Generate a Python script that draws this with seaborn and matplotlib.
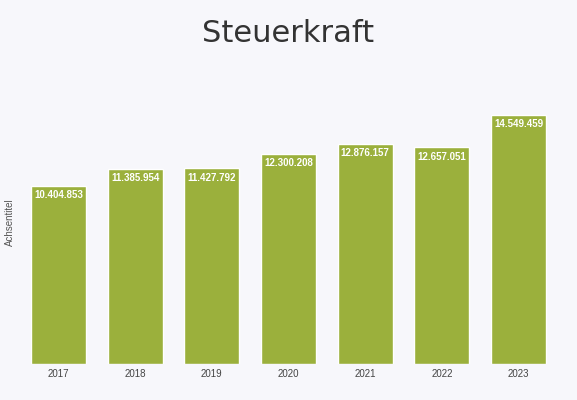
import matplotlib
matplotlib.use("Agg")
import matplotlib.pyplot as plt
import seaborn as sns
import pandas as pd

jahre = ["2017", "2018", "2019", "2020", "2021", "2022", "2023"]
werte = [10404853, 11385954, 11427792, 12300208, 12876157, 12657051, 14549459]
labels = ["10.404.853", "11.385.954", "11.427.792", "12.300.208", "12.876.157", "12.657.051", "14.549.459"]

sns.set_theme(style="white")
plt.rcParams['font.family'] = ['Liberation Sans', 'DejaVu Sans']

df = pd.DataFrame({"jahr": jahre, "wert": werte})

fig = plt.figure(figsize=(5.77, 4.0), dpi=100, facecolor="#f7f7fb")
ax = fig.add_axes([0.035, 0.09, 0.93, 0.71])
ax.set_facecolor("#f7f7fb")
sns.barplot(data=df, x="jahr", y="wert", color="#9bb03c", saturation=1, width=0.72, ax=ax)
ax.set_ylim(0, 16.6e6)
ax.set_yticks([])
ax.set_xlabel("")
ax.set_ylabel("Achsentitel", fontsize=7, color="#555555")
ax.tick_params(axis="x", labelsize=7, colors="#444444", length=0)
for s in ax.spines.values():
    s.set_visible(False)
for i, (v, t) in enumerate(zip(werte, labels)):
    ax.text(i, v - 0.25e6, t, ha="center", va="top", color="white", fontsize=7, fontweight="bold")
fig.text(0.5, 0.915, "Steuerkraft", ha="center", va="center", fontsize=22, color="#333333",
         family=['DejaVu Sans'])
fig.savefig("out.png", dpi=100, facecolor=fig.get_facecolor())
